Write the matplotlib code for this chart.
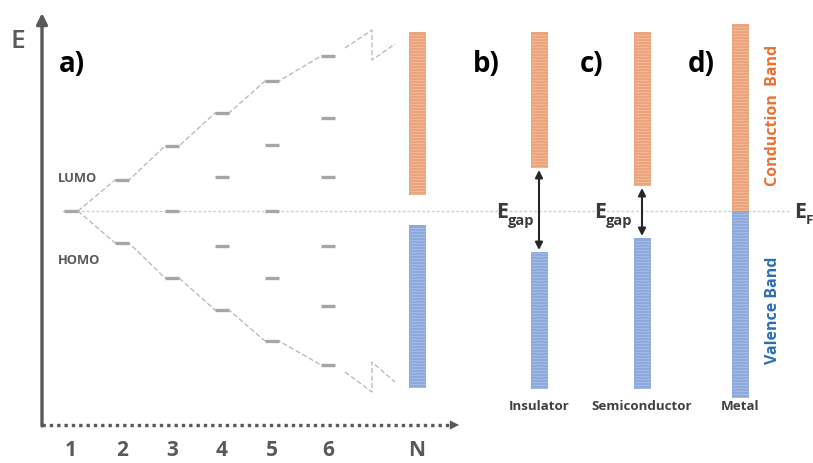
import matplotlib
matplotlib.use("Agg")
import matplotlib.pyplot as plt
from matplotlib.patches import Rectangle
import numpy as np

# ---------------- data (energy relative to E_F, arbitrary units) -------------
n_labels = ['1', '2', '3', '4', '5', '6', 'N']
levels_n1 = [0]
levels_n2 = [31, -32]
levels_n3 = [65, 0, -67]
levels_n4 = [98, 34, -35, -99]
levels_n5 = [130, 66, 0, -67, -130]
levels_n6 = [155, 93, 34, -35, -95, -154]
all_levels = [levels_n1, levels_n2, levels_n3, levels_n4, levels_n5, levels_n6]

# bands: (bottom, top) of conduction band and valence band
band_names = ['N', 'Insulator', 'Semiconductor', 'Metal']
cb_bottom = [16, 43, 25, 0]
cb_top = [179, 179, 179, 187]
vb_bottom = [-177, -178, -178, -187]
vb_top = [-14, -41, -27, 0]

# ---------------- layout ----------------
W, H = 813, 463
fig = plt.figure(figsize=(W / 100, H / 100), dpi=100)
ax = fig.add_axes([0, 0, 1, 1])
ax.set_xlim(0, W)
EF_PIX = 211
ax.set_ylim(EF_PIX - H, EF_PIX)
ax.axis('off')

def py(p):  # pixel row -> energy coordinate
    return EF_PIX - p

FONT = 'Open Sans'
GRAY = '#595959'
LEVEL = '#a6a6a6'
ORANGE = '#EBA47B'
BLUE = '#8EA9DB'

x_n = [71, 122, 172, 222, 272, 328]
x_bands = [417, 539, 642, 740]
bar_w = 17
dash_half = 7

# Fermi level dotted line
ax.plot([62, 790], [0, 0], color='#cfcfcf', lw=1.0, ls=(0, (2, 1.5)), zorder=1)

# energy levels
for xc, lv in zip(x_n, all_levels):
    for e in lv:
        ax.plot([xc - dash_half, xc + dash_half], [e, e], color=LEVEL, lw=2.4,
                solid_capstyle='butt', zorder=3)

# dashed envelopes connecting highest and lowest levels
top_x, top_y, bot_x, bot_y = [], [], [], []
for i, (xc, lv) in enumerate(zip(x_n, all_levels)):
    if i == 0:
        top_x += [xc + dash_half]; top_y += [max(lv)]
        bot_x += [xc + dash_half]; bot_y += [min(lv)]
    else:
        top_x += [xc - dash_half, xc + dash_half]; top_y += [max(lv)] * 2
        bot_x += [xc - dash_half, xc + dash_half]; bot_y += [min(lv)] * 2
ax.plot(top_x, top_y, color='#b5b5b5', lw=0.9, ls=(0, (4, 2)), zorder=2)
ax.plot(bot_x, bot_y, color='#b5b5b5', lw=0.9, ls=(0, (4, 2)), zorder=2)

# break symbols
brk_x = [345, 372, 372, 395]
ax.plot(brk_x, [py(48), py(30), py(60), py(44)], color='#b5b5b5', lw=0.9,
        ls=(0, (4, 2)), zorder=2)
ax.plot(brk_x, [py(372), py(392), py(362), py(382)], color='#b5b5b5', lw=0.9,
        ls=(0, (4, 2)), zorder=2)

# striped bands
def band(xc, b, t, color):
    ax.add_patch(Rectangle((xc - bar_w / 2, b), bar_w, t - b, facecolor=color,
                           edgecolor='none', zorder=4))
    ys = np.arange(b + 1.5, t, 3.0)
    for yy in ys:
        ax.plot([xc - bar_w / 2 + 1, xc + bar_w / 2 - 1], [yy, yy],
                color='white', alpha=0.3, lw=0.5, zorder=5)

for xc, cb0, cb1, vb0, vb1 in zip(x_bands, cb_bottom, cb_top, vb_bottom, vb_top):
    band(xc, cb0, cb1, ORANGE)
    band(xc, vb0, vb1, BLUE)

# gap arrows
for i in (1, 2):
    ax.annotate('', xy=(x_bands[i], cb_bottom[i] - 2), xytext=(x_bands[i], vb_top[i] + 2),
                arrowprops=dict(arrowstyle='<|-|>', color='#262626', lw=1.5,
                                mutation_scale=11, shrinkA=0, shrinkB=0), zorder=6)
    xe = x_bands[i] - 43 if i == 1 else x_bands[i] - 48
    ax.text(xe, py(212), 'E', fontsize=15.5, fontweight='bold', family=FONT,
            color='#3a3a3a', ha='left', va='center')
    ax.text(xe + 12, py(221), 'gap', fontsize=10.5, fontweight='bold', family=FONT,
            color='#3a3a3a', ha='left', va='center')

# E_F label
ax.text(794, py(212), 'E', fontsize=15.5, fontweight='bold', family=FONT,
        color='#3a3a3a', ha='left', va='center')
ax.text(806, py(221), 'F', fontsize=9.5, fontweight='bold', family=FONT,
        color='#3a3a3a', ha='left', va='center')

# axes
ax.annotate('', xy=(42, py(13)), xytext=(42, py(426)),
            arrowprops=dict(arrowstyle='-|>', color=GRAY, lw=2.4,
                            mutation_scale=16, shrinkA=0, shrinkB=0))
ax.plot([42, 450], [py(425), py(425)], color=GRAY, lw=2.4, ls=(0, (1, 1.2)))
ax.annotate('', xy=(459, py(425)), xytext=(447, py(425)),
            arrowprops=dict(arrowstyle='-|>', color=GRAY, lw=0.1,
                            mutation_scale=16, shrinkA=0, shrinkB=0))
ax.text(18, py(42), 'E', fontsize=19, family=FONT, fontweight='semibold',
        color=GRAY, ha='center', va='center')

# x tick labels
for lab, xc in zip(n_labels, x_n + [x_bands[0]]):
    ax.text(xc, py(451), lab, fontsize=15, family=FONT, fontweight='bold',
            color=GRAY, ha='center', va='center')

# panel letters
for lab, xc in zip(['a)', 'b)', 'c)', 'd)'], [72, 486, 592, 701]):
    ax.text(xc, py(64), lab, fontsize=20, family=FONT, fontweight='bold',
            color='black', ha='center', va='center')

ax.text(58, py(178), 'LUMO', fontsize=9.3, family=FONT, fontweight='bold',
        color=GRAY, ha='left', va='center')
ax.text(58, py(260), 'HOMO', fontsize=9.3, family=FONT, fontweight='bold',
        color=GRAY, ha='left', va='center')

ax.text(773, py(115), 'Conduction  Band', fontsize=11.5, family=FONT,
        fontweight='bold', color='#E97132', rotation=90, ha='center', va='center')
ax.text(773, py(310), 'Valence Band', fontsize=11.5, family=FONT,
        fontweight='bold', color='#2E6DB4', rotation=90, ha='center', va='center')

for name, xc in zip(band_names[1:], x_bands[1:]):
    ax.text(xc, py(407), name, fontsize=9.6, family=FONT, fontweight='bold',
            color='#404040', ha='center', va='center')

fig.savefig('out.png', dpi=100, facecolor='white')
